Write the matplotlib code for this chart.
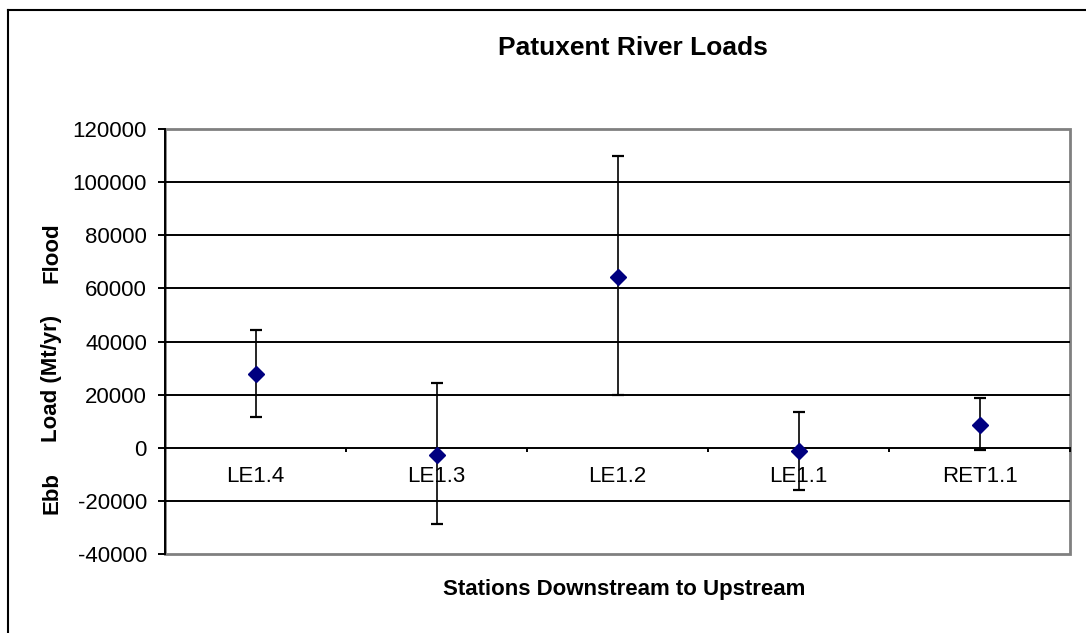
import numpy as np
import matplotlib
matplotlib.use("Agg")
import matplotlib.pyplot as plt
from matplotlib.patches import Rectangle
from matplotlib.lines import Line2D

stations = ["LE1.4", "LE1.3", "LE1.2", "LE1.1", "RET1.1"]
loads = [27700, -2600, 64400, -1400, 8700]
err_low = [16100, 26200, 44600, 14400, 9400]
err_high = [16600, 27100, 45500, 14900, 10200]
yticks = [-40000, -20000, 0, 20000, 40000, 60000, 80000, 100000, 120000]

plt.rcParams["font.family"] = ["Liberation Sans", "DejaVu Sans"]
fs = 16

fig = plt.figure(figsize=(10.86, 6.33), dpi=100)
ax = fig.add_axes([165 / 1086, 1 - 554 / 633, (1070 - 165) / 1086, (554 - 129) / 633])

x = np.arange(len(stations)) + 0.5
ax.set_xlim(0, len(stations))
ax.set_ylim(-40000, 120000)

for yv in yticks[1:-1]:
    if yv != 0:
        ax.axhline(yv, color="black", lw=1.4, zorder=1)

ax.errorbar(x, loads, yerr=[err_low, err_high], fmt="none", ecolor="black",
            elinewidth=1.2, capsize=4, capthick=1.6, zorder=3)
ax.plot(x, loads, ls="none", marker="D", ms=8.5, color="#000080", zorder=4)

# gray plot area border
ax.add_patch(Rectangle((0, 0), 1, 1, transform=ax.transAxes, fill=False,
                       edgecolor="#808080", lw=2, clip_on=False, zorder=0.5))

for s in ["top", "right"]:
    ax.spines[s].set_visible(False)
ax.spines["bottom"].set_position(("data", 0))
ax.spines["bottom"].set_color("black")
ax.spines["bottom"].set_linewidth(1.4)
ax.spines["left"].set_color("black")
ax.spines["left"].set_linewidth(1.4)

ax.set_yticks(yticks)
ax.set_yticklabels([str(v) for v in yticks], fontsize=fs)
ax.tick_params(axis="y", direction="out", length=5, width=1.4, pad=8)

ax.set_xticks(np.arange(len(stations) + 1))
ax.set_xticklabels([])
ax.set_xticks(x, minor=True)
ax.set_xticklabels(stations, minor=True, fontsize=fs)
ax.tick_params(axis="x", which="major", direction="out", length=3, width=1.4)
ax.tick_params(axis="x", which="minor", length=0, pad=13)

fig.text(633 / 1086, 1 - 48 / 633, "Patuxent River Loads", ha="center", va="center",
         fontsize=19, fontweight="bold")
fig.text(624 / 1086, 1 - 590 / 633, "Stations Downstream to Upstream", ha="center",
         va="center", fontsize=16, fontweight="bold")
for label, yp in [("Flood", 253), ("Load (Mt/yr)", 378), ("Ebb", 493)]:
    fig.text(52 / 1086, 1 - yp / 633, label, ha="center", va="center", rotation=90,
             fontsize=16, fontweight="bold")

# outer chart border (top and left visible)
fig.add_artist(Line2D([8 / 1086, 1], [1 - 10 / 633, 1 - 10 / 633], color="black", lw=1.5))
fig.add_artist(Line2D([8 / 1086, 8 / 1086], [0, 1 - 10 / 633], color="black", lw=1.5))

fig.savefig("out.png", dpi=100)
